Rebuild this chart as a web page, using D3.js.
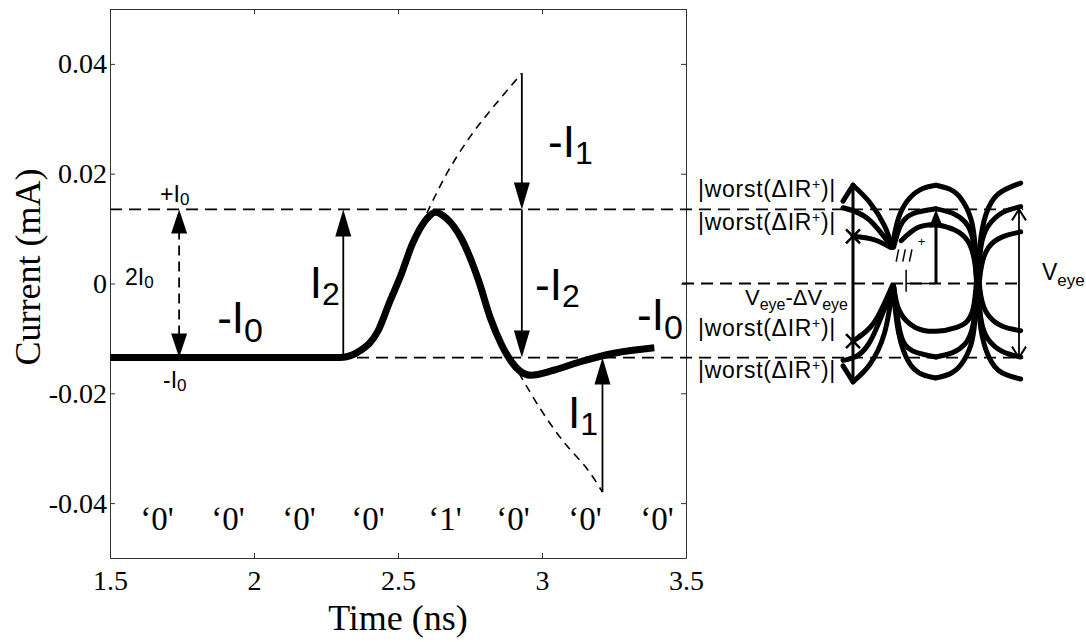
<!DOCTYPE html>
<html>
<head>
<meta charset="utf-8">
<script src="https://cdn.jsdelivr.net/npm/d3@7"></script>
<style>
  body { margin: 0; background: #fff; }
  svg { display: block; }
  .tick text { font-family: 'Liberation Serif', 'Times New Roman', serif; font-size: 28px; fill: #000; }
  .tick line, .domain { stroke: #333; }
</style>
</head>
<body>
<div class="canvas"></div>
<script>
// ---- data ----
const timeNs  = [1.5, 2.0, 2.3, 2.37, 2.43, 2.47, 2.51, 2.55, 2.6, 2.63, 2.67, 2.72, 2.78, 2.82, 2.86, 2.92, 2.96, 3.04, 3.13, 3.25, 3.39];
const current = [-0.0135, -0.0135, -0.0135, -0.0122, -0.0087, -0.0035, 0.0015, 0.0072, 0.0118, 0.0130, 0.0118, 0.0082, 0.0005, -0.0062, -0.0112, -0.0158, -0.0167, -0.0158, -0.0143, -0.0127, -0.0117];

const I0 = 0.0135;

// thin dashed extrapolations
const upperDashT = [2.60, 2.67, 2.75, 2.83, 2.93];
const upperDashI = [0.0128, 0.0201, 0.0267, 0.0321, 0.0383];
const lowerDashT = [2.92, 2.99, 3.07, 3.16, 3.21];
const lowerDashI = [-0.0163, -0.0225, -0.0285, -0.034, -0.038];

// solid arrows: time, tail value, tip value
const arrowT    = [2.31, 2.93, 2.93, 3.21];
const arrowFrom = [-I0, 0.0383, I0, -0.038];
const arrowTo   = [I0, I0, -I0, -I0];
const dashArrowT = 1.74;

const xTicks = [1.5, 2, 2.5, 3, 3.5];
const yTicks = [-0.04, -0.02, 0, 0.02, 0.04];

const bitLabels = ['0', '0', '0', '0', '1', '0', '0', '0'];
const bitTimes  = [1.663, 1.910, 2.156, 2.396, 2.663, 2.899, 3.149, 3.399];

// eye diagram traces, [unit interval, current]
const eyeUpper = [
  [[-0.12, 0.0150], [0, 0.0179]],
  [[0, 0.0179], [0.2, 0.0148], [0.38, 0.0105], [0.47, 0.0066]],
  [[-0.12, 0.0138], [0.18, 0.0118], [0.47, 0.0066]],
  [[0, 0.0086], [0.25, 0.0080], [0.45, 0.0066]],
  [[0.47, 0.0066], [0.55, 0.0120], [0.68, 0.0155], [0.84, 0.0173], [1, 0.0179]],
  [[1, 0.0179], [1.16, 0.0172], [1.3, 0.0155], [1.42, 0.0118], [1.47, 0.0070], [1.5, 0.0]],
  [[0.49, 0.0066], [0.57, 0.0105], [0.72, 0.0127], [1, 0.0136]],
  [[1, 0.0136], [1.2, 0.0128], [1.35, 0.0112], [1.45, 0.0075], [1.5, -0.002]],
  [[0.58, 0.0078], [0.78, 0.0102], [1, 0.0108]],
  [[1, 0.0108], [1.22, 0.0098], [1.38, 0.0078], [1.47, 0.0035], [1.5, -0.004]],
  [[1.5, 0.0], [1.53, 0.0070], [1.6, 0.0125], [1.75, 0.0163], [2.02, 0.0183]],
  [[1.5, -0.002], [1.54, 0.0065], [1.63, 0.0105], [1.8, 0.0129], [2.02, 0.0140]],
  [[1.5, -0.004], [1.54, 0.0025], [1.63, 0.0065], [1.8, 0.0085], [2.02, 0.0094]]
];
const eyeLower = [
  [[-0.12, -0.0150], [0, -0.0179]],
  [[0, -0.0179], [0.2, -0.0148], [0.38, -0.0090], [0.48, -0.0005]],
  [[-0.12, -0.0140], [0.18, -0.0112], [0.48, -0.0005]],
  [[0, -0.0105], [0.25, -0.0072], [0.47, -0.0005]],
  [[0.48, -0.0005], [0.55, -0.0090], [0.68, -0.0145], [0.84, -0.0166], [1, -0.0172]],
  [[1, -0.0172], [1.16, -0.0165], [1.3, -0.0148], [1.42, -0.0112], [1.47, -0.0065], [1.5, 0.0]],
  [[0.49, -0.0005], [0.57, -0.0090], [0.72, -0.0123], [1, -0.0134]],
  [[1, -0.0134], [1.2, -0.0126], [1.35, -0.0110], [1.45, -0.0072], [1.5, 0.002]],
  [[0.49, -0.0005], [0.56, -0.0050], [0.75, -0.0080], [1, -0.0087], [1.25, -0.0080], [1.44, -0.0050], [1.5, 0.004]],
  [[1.5, 0.0], [1.53, -0.0070], [1.6, -0.0120], [1.75, -0.0158], [2.02, -0.0174]],
  [[1.5, 0.002], [1.54, -0.0063], [1.63, -0.0102], [1.8, -0.0124], [2.02, -0.0134]],
  [[1.5, 0.004], [1.54, -0.0022], [1.63, -0.0058], [1.8, -0.0078], [2.02, -0.0086]]
];
const eyeEdge = 0.0179;              // outer vertical line
const eyeMarks = [0.0086, -0.0105];  // x marks on the left line
const worstLevels = [0.0158, 0.0097, -0.0096, -0.0172];

// ---- layout ----
const width = 1086, height = 642;
const margin = { top: 9, left: 110 };
const graphWidth = 576, graphHeight = 549;

const svg = d3.select('.canvas').append('svg')
  .attr('width', width)
  .attr('height', height)
  .style('background', '#fff');

const graph = svg.append('g')
  .attr('transform', `translate(${margin.left},${margin.top})`);

const x = d3.scaleLinear().domain([1.5, 3.5]).range([0, graphWidth]);
const y = d3.scaleLinear().domain([-0.05, 0.05]).range([graphHeight, 0]);
// eye diagram sits right of the plot
const eyeX = d3.scaleLinear().domain([0, 2]).range([743, 909]);

const serif = "'Liberation Serif', 'Times New Roman', serif";
const sans = "'Liberation Sans', Arial, Helvetica, sans-serif";

// axes (box with inward ticks)
const fmtY = d => d === 0 ? '0' : d.toFixed(2);
graph.append('g')
  .attr('transform', `translate(0,${graphHeight})`)
  .call(d3.axisBottom(x).tickValues(xTicks).tickSizeInner(-5).tickSizeOuter(0).tickPadding(12).tickFormat(d => String(d)));
graph.append('g')
  .call(d3.axisLeft(y).tickValues(yTicks).tickSizeInner(-5).tickSizeOuter(0).tickPadding(3).tickFormat(fmtY));
graph.append('g')
  .call(d3.axisTop(x).tickValues(xTicks).tickSizeInner(-5).tickSizeOuter(0).tickFormat(''));
graph.append('g')
  .attr('transform', `translate(${graphWidth},0)`)
  .call(d3.axisRight(y).tickValues(yTicks).tickSizeInner(-5).tickSizeOuter(0).tickFormat(''));
graph.selectAll('.tick text').attr('font-family', null).attr('font-size', null);

// axis titles
svg.append('text')
  .attr('x', margin.left + x(2.5))
  .attr('y', 630)
  .attr('text-anchor', 'middle')
  .style('font-family', serif)
  .style('font-size', '36px')
  .text('Time (ns)');
svg.append('text')
  .attr('transform', `translate(40,${margin.top + y(0.003)}) rotate(-90)`)
  .attr('text-anchor', 'middle')
  .style('font-family', serif)
  .style('font-size', '36px')
  .text('Current (mA)');

// dashed reference levels
const refLines = graph.append('g')
  .attr('fill', 'none')
  .attr('stroke', '#000')
  .attr('stroke-width', 1.8)
  .style('stroke-dasharray', '12,7');
[I0, -I0].forEach(v => {
  refLines.append('line')
    .attr('x1', x(1.5)).attr('x2', eyeX(2.05))
    .attr('y1', y(v)).attr('y2', y(v));
});
refLines.append('line')
  .attr('x1', x(3.5) - 4).attr('x2', eyeX(2.05))
  .attr('y1', y(0)).attr('y2', y(0));

// thin dashed extrapolations
const dashLine = d3.line().x(d => x(d[0])).y(d => y(d[1])).curve(d3.curveCatmullRom);
[[upperDashT, upperDashI], [lowerDashT, lowerDashI]].forEach(([ts, vs]) => {
  graph.append('path')
    .datum(ts.map((t, i) => [t, vs[i]]))
    .attr('fill', 'none')
    .attr('stroke', '#000')
    .attr('stroke-width', 1.6)
    .style('stroke-dasharray', '8,6')
    .attr('d', dashLine);
});

// main current waveform
const line = d3.line().x(d => x(d[0])).y(d => y(d[1])).curve(d3.curveMonotoneX);
graph.append('path')
  .datum(timeNs.map((t, i) => [t, current[i]]))
  .attr('fill', 'none')
  .attr('stroke', '#000')
  .attr('stroke-width', 7)
  .attr('stroke-linejoin', 'round')
  .attr('d', line);

// arrow heads
const head = function(g, px, tip, dir, len, w) {
  // dir -1 = pointing up, 1 = pointing down
  const base = tip - dir * len;
  g.append('path')
    .attr('d', `M${px},${tip}L${px - w},${base}L${px + w},${base}Z`)
    .attr('fill', '#000');
};

const arrows = graph.append('g');
arrowT.forEach((t, i) => {
  const dir = arrowTo[i] > arrowFrom[i] ? -1 : 1;
  arrows.append('line')
    .attr('x1', x(t)).attr('x2', x(t))
    .attr('y1', y(arrowFrom[i])).attr('y2', y(arrowTo[i]) - dir * 20)
    .attr('stroke', '#000').attr('stroke-width', 1.8);
  head(arrows, x(t), y(arrowTo[i]), dir, 27, 8);
});
arrows.append('line')
  .attr('x1', x(dashArrowT)).attr('x2', x(dashArrowT))
  .attr('y1', y(I0) + 20).attr('y2', y(-I0) - 20)
  .attr('stroke', '#000').attr('stroke-width', 1.8)
  .style('stroke-dasharray', '10,6');
head(arrows, x(dashArrowT), y(I0), -1, 24, 8);
head(arrows, x(dashArrowT), y(-I0), 1, 24, 8);

// bit labels
graph.selectAll('.bit')
  .data(bitLabels)
  .enter().append('text')
  .attr('class', 'bit')
  .attr('x', (d, i) => x(bitTimes[i]))
  .attr('y', y(-0.0449))
  .attr('text-anchor', 'middle')
  .style('font-family', serif)
  .style('font-size', '33px')
  .text(d => `\u2018${d}'`);

// labels with subscripts
const label = function(px, py, main, sub, size, subSize, shift) {
  const t = graph.append('text')
    .attr('x', px).attr('y', py)
    .style('font-family', sans)
    .style('font-size', size + 'px');
  t.append('tspan').text(main);
  t.append('tspan').attr('dy', shift).style('font-size', subSize + 'px').text(sub);
  return t;
};
label(x(1.674), y(0.01485), '+I', '0', 23, 17, 3);
label(x(1.552), y(-0.0003), '2I', '0', 23, 17, 3);
label(x(1.684), y(-0.019), '-I', '0', 23, 17, 3);
label(x(1.872), y(-0.009), '-I', '0', 44, 34, 9);
label(x(2.194), y(-0.0026), 'I', '2', 44, 32, 7);
label(x(3.021), y(0.023), '-I', '1', 44, 32, 7);
label(x(2.976), y(-0.003), '-I', '2', 44, 32, 7);
label(x(3.330), y(-0.0085), '-I', '0', 44, 34, 9);
label(x(3.090), y(-0.0263), 'I', '1', 44, 32, 7);

// ---- eye diagram ----
const eye = graph.append('g');
const eyeLine = d3.line().x(d => eyeX(d[0])).y(d => y(d[1])).curve(d3.curveNatural);
eye.selectAll('.trace')
  .data(eyeUpper.concat(eyeLower))
  .enter().append('path')
  .attr('class', 'trace')
  .attr('fill', 'none')
  .attr('stroke', '#000')
  .attr('stroke-width', 5)
  .attr('stroke-linecap', 'round')
  .attr('d', eyeLine);

// left vertical line with x marks
eye.append('line')
  .attr('x1', eyeX(0)).attr('x2', eyeX(0))
  .attr('y1', y(eyeEdge)).attr('y2', y(-eyeEdge))
  .attr('stroke', '#000').attr('stroke-width', 3);
eyeMarks.forEach(v => {
  const cx = eyeX(0), cy = y(v);
  eye.append('path')
    .attr('d', `M${cx - 7},${cy - 7}L${cx + 7},${cy + 7}M${cx - 7},${cy + 7}L${cx + 7},${cy - 7}`)
    .attr('stroke', '#000').attr('stroke-width', 2.5);
});
// stub at left crossing
eye.append('line')
  .attr('x1', eyeX(0.48)).attr('x2', eyeX(0.48))
  .attr('y1', y(0)).attr('y2', y(-0.0042))
  .attr('stroke', '#000').attr('stroke-width', 5);

// middle arrow up to +I0
eye.append('line')
  .attr('x1', eyeX(1)).attr('x2', eyeX(1))
  .attr('y1', y(0)).attr('y2', y(I0) + 12)
  .attr('stroke', '#000').attr('stroke-width', 3);
head(eye, eyeX(1), y(I0), -1, 18, 7);
eye.append('line')
  .attr('x1', eyeX(0.64)).attr('x2', eyeX(1))
  .attr('y1', y(0)).attr('y2', y(0))
  .attr('stroke', '#000').attr('stroke-width', 1.5);
eye.append('line')
  .attr('x1', eyeX(0.64)).attr('x2', eyeX(0.64))
  .attr('y1', y(0.0025)).attr('y2', y(-0.0015))
  .attr('stroke', '#000').attr('stroke-width', 1.5);
// hatch marks near the left crossing
[0.52, 0.6, 0.68].forEach(u => {
  eye.append('line')
    .attr('x1', eyeX(u)).attr('x2', eyeX(u + 0.03))
    .attr('y1', y(0.0040)).attr('y2', y(0.0062))
    .attr('stroke', '#000').attr('stroke-width', 1.5);
});
eye.append('text')
  .attr('x', eyeX(0.78)).attr('y', y(0.0068))
  .style('font-family', sans).style('font-size', '13px')
  .text('+');

// right V_eye arrow with open heads
const rx = eyeX(2);
eye.append('line')
  .attr('x1', rx).attr('x2', rx)
  .attr('y1', y(I0)).attr('y2', y(-I0))
  .attr('stroke', '#000').attr('stroke-width', 1.8);
[[I0, 1], [-I0, -1]].forEach(([v, s]) => {
  const ty = y(v);
  eye.append('path')
    .attr('d', `M${rx - 7},${ty + s * 11}L${rx},${ty}L${rx + 7},${ty + s * 11}`)
    .attr('fill', 'none').attr('stroke', '#000').attr('stroke-width', 2);
});

// eye text
worstLevels.forEach(v => {
  const t = eye.append('text')
    .attr('x', eyeX(0) - 17).attr('y', y(v))
    .attr('text-anchor', 'end')
    .style('font-family', sans)
    .style('font-size', '23px')
    .style('letter-spacing', '0.7px');
  t.append('tspan').text('|worst(\u0394IR');
  t.append('tspan').attr('dy', -8).style('font-size', '14px').text('+');
  t.append('tspan').attr('dy', 8).text(')|');
});
const veye = eye.append('text')
  .attr('x', eyeX(0) - 5).attr('y', y(-0.0040))
  .attr('text-anchor', 'end')
  .style('font-family', sans)
  .style('font-size', '22px');
veye.append('tspan').text('V');
veye.append('tspan').attr('dy', 5).style('font-size', '16px').text('eye');
veye.append('tspan').attr('dy', -5).text('-\u0394V');
veye.append('tspan').attr('dy', 5).style('font-size', '16px').text('eye');

const veyeR = eye.append('text')
  .attr('x', eyeX(2) + 23).attr('y', y(0.0006))
  .style('font-family', sans)
  .style('font-size', '23px');
veyeR.append('tspan').text('V');
veyeR.append('tspan').attr('dy', 6).style('font-size', '17px').text('eye');
</script>
</body>
</html>
